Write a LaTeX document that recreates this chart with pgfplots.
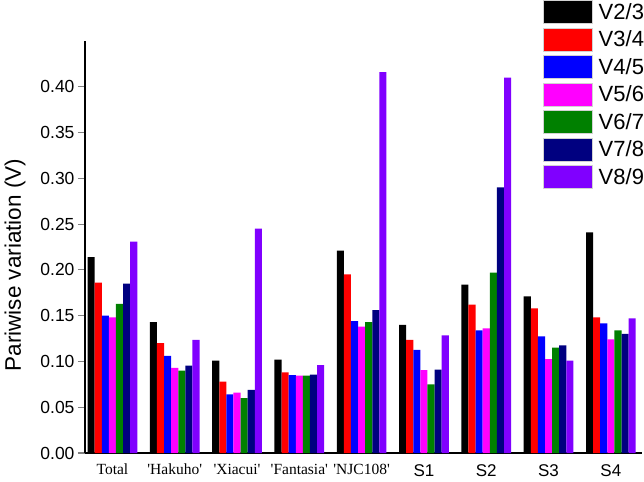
\documentclass[border=0pt]{standalone}
\usepackage{pgfplots}
\pgfplotsset{compat=1.18}
\usepackage{pgfplotstable}
\usepackage{fontspec}
\setmainfont{Liberation Sans}
\newfontfamily\tnr{Liberation Serif}

\definecolor{cV23}{RGB}{0,0,0}
\definecolor{cV34}{RGB}{255,0,0}
\definecolor{cV45}{RGB}{0,0,255}
\definecolor{cV56}{RGB}{255,0,255}
\definecolor{cV67}{RGB}{0,128,0}
\definecolor{cV78}{RGB}{0,0,128}
\definecolor{cV89}{RGB}{128,0,255}

% one row per group: Total, Hakuho, Xiacui, Fantasia, NJC108, S1..S4
\pgfplotstableread{
x  v23   v34    v45    v56    v67    v78    v89
0  0.214 0.186  0.150  0.148  0.163  0.185  0.231
1  0.143 0.120  0.106  0.093  0.090  0.0955 0.1235
2  0.101 0.078  0.064  0.066  0.060  0.069  0.245
3  0.102 0.088  0.085  0.0845 0.0845 0.0855 0.096
4  0.221 0.195  0.144  0.138  0.143  0.156  0.416
5  0.140 0.1235 0.1125 0.0905 0.075  0.091  0.1285
6  0.184 0.162  0.134  0.136  0.197  0.290  0.410
7  0.171 0.158  0.1275 0.1025 0.115  0.1175 0.101
8  0.241 0.148  0.1415 0.124  0.134  0.130  0.147
}\pv

\begin{document}
\begin{tikzpicture}
\begin{axis}[
    at={(0,0)}, anchor=south west,
    scale only axis,
    width=557pt, height=412pt,
    ybar=0pt,
    bar width=0.114,
    xmin=-0.44, xmax=8.5,
    ymin=0, ymax=0.45,
    axis lines*=left,
    axis line style={line width=1.1pt},
    xtick=data,
    xticklabels={{\tnr Total},{\tnr \textquotesingle Hakuho\textquotesingle},{\tnr \textquotesingle Xiacui\textquotesingle},{\tnr \textquotesingle Fantasia\textquotesingle},{\tnr \textquotesingle NJC108\textquotesingle},{\fontsize{17}{20}\selectfont S1},{\fontsize{17}{20}\selectfont S2},{\fontsize{17}{20}\selectfont S3},{\fontsize{17}{20}\selectfont S4}},
    xtick style={draw=none},
    xticklabel style={font=\fontsize{15.5}{18}\selectfont, anchor=north, inner sep=0pt, yshift=-4pt},
    ytick={0,0.05,...,0.41},
    ytick style={line width=1.1pt},
    tick align=outside,
    major tick length=7pt,
    yticklabel style={font=\fontsize{17.5}{20}\selectfont, /pgf/number format/fixed, /pgf/number format/fixed zerofill, /pgf/number format/precision=2},
    /pgf/number format/assume math mode=true,
    ylabel={Pariwise variation (V)},
    ylabel style={font=\fontsize{22.5}{26}\selectfont, at={(axis description cs:-0.1257,0.456)}, anchor=center},
    legend image code/.code={\draw[#1, draw=gray!35, line width=0.5pt] (0pt,-11.5pt) rectangle (49pt,11.5pt);},
    legend style={at={(axis description cs:0.8223,1.0995)}, anchor=north west, draw=none, fill=none,
        inner sep=0pt, row sep=4pt, font=\fontsize{22}{24}\selectfont,
        nodes={inner sep=0pt}, /tikz/every odd column/.style={column sep=6pt}},
    legend cell align=left,
]
\addplot[fill=cV23, draw=none] table[x=x, y=v23] {\pv};
\addplot[fill=cV34, draw=none] table[x=x, y=v34] {\pv};
\addplot[fill=cV45, draw=none] table[x=x, y=v45] {\pv};
\addplot[fill=cV56, draw=none] table[x=x, y=v56] {\pv};
\addplot[fill=cV67, draw=none] table[x=x, y=v67] {\pv};
\addplot[fill=cV78, draw=none] table[x=x, y=v78] {\pv};
\addplot[fill=cV89, draw=none] table[x=x, y=v89] {\pv};
\legend{V2/3,V3/4,V4/5,V5/6,V6/7,V7/8,V8/9}
\end{axis}
\pgfresetboundingbox
\useasboundingbox (-85pt,-28pt) rectangle (559pt,453pt);
\end{tikzpicture}
\end{document}
